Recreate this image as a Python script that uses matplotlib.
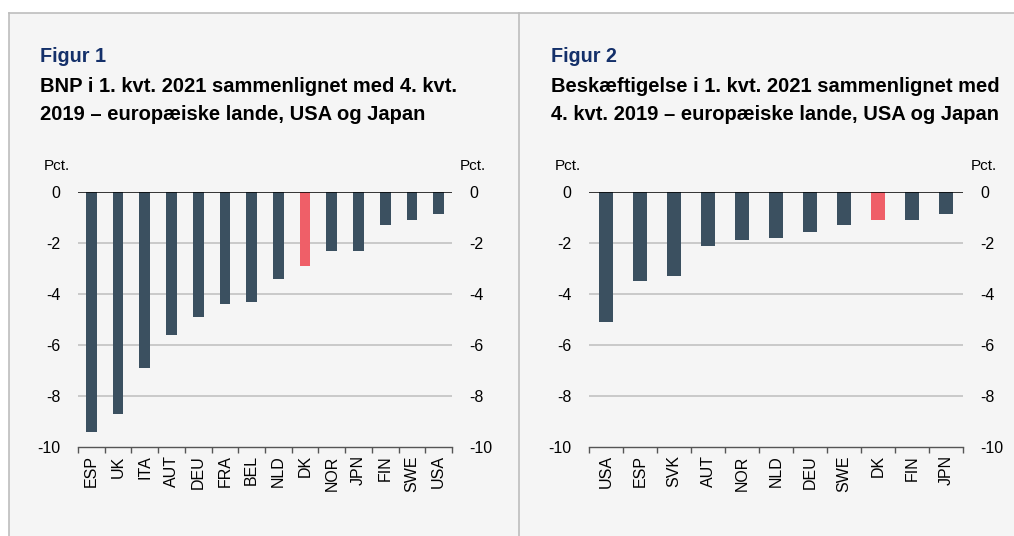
import matplotlib

matplotlib.use("Agg")
import matplotlib.pyplot as plt
from matplotlib.lines import Line2D
from matplotlib.patches import Rectangle

plt.rcParams["font.family"] = ["Liberation Sans", "DejaVu Sans"]

# ---------------------------------------------------------------------------
# Data (pct. change, 2021Q1 vs 2019Q4)
# ---------------------------------------------------------------------------
GDP_COUNTRIES = ["ESP", "UK", "ITA", "AUT", "DEU", "FRA", "BEL", "NLD", "DK",
                 "NOR", "JPN", "FIN", "SWE", "USA"]
GDP_VALUES = [-9.4, -8.7, -6.9, -5.6, -4.9, -4.4, -4.3, -3.4, -2.9,
              -2.3, -2.3, -1.3, -1.1, -0.85]

EMP_COUNTRIES = ["USA", "ESP", "SVK", "AUT", "NOR", "NLD", "DEU", "SWE", "DK",
                 "FIN", "JPN"]
EMP_VALUES = [-5.1, -3.5, -3.3, -2.1, -1.9, -1.8, -1.55, -1.3, -1.1,
              -1.1, -0.87]

HIGHLIGHT = "DK"
Y_TICKS = [0, -2, -4, -6, -8, -10]

TITLE1 = ["BNP i 1. kvt. 2021 sammenlignet med 4. kvt.",
          "2019 – europæiske lande, USA og Japan"]
TITLE2 = ["Beskæftigelse i 1. kvt. 2021 sammenlignet med",
          "4. kvt. 2019 – europæiske lande, USA og Japan"]

BAR = "#3b5060"
RED = "#ef5f68"
NAVY = "#14306a"
BG = "#f5f5f5"
W, H = 1014, 536


def fx(px):
    return px / W


def fy(py):
    return 1 - py / H


def draw_panel(ax, countries, values):
    n = len(countries)
    colors = [RED if c == HIGHLIGHT else BAR for c in countries]
    ax.bar(range(n), values, width=0.4, color=colors, zorder=3)
    ax.set_facecolor("none")
    ax.set_xlim(-0.5, n - 0.5)
    ax.set_ylim(-10, 0)
    ax.set_yticks(Y_TICKS)
    ax.set_yticklabels([str(v) for v in Y_TICKS], fontsize=11.5)
    ax.tick_params(axis="y", left=False, right=False, labelleft=True,
                   labelright=True, pad=9)
    for v in Y_TICKS[1:-1]:
        ax.axhline(v, color="#c2c2c2", lw=1.2, zorder=1)
    ax.axhline(0, color="black", lw=1.1, zorder=4)
    for s in ["top", "left", "right"]:
        ax.spines[s].set_visible(False)
    ax.spines["bottom"].set_color("#555555")
    ax.spines["bottom"].set_linewidth(1.0)
    # boundary ticks + centred labels
    ax.set_xticks([i - 0.5 for i in range(n + 1)])
    ax.set_xticklabels([])
    ax.tick_params(axis="x", which="major", length=4, color="#555555", width=1.0)
    ax.set_xticks(range(n), minor=True)
    ax.set_xticklabels(countries, minor=True, rotation=90, fontsize=11.5)
    ax.tick_params(axis="x", which="minor", length=0, pad=6)


fig = plt.figure(figsize=(W / 100, H / 100), dpi=100, facecolor="white")

# background panel and frame lines
fig.patches.append(Rectangle((fx(9), 0), 1 - fx(9), fy(13), transform=fig.transFigure,
                             facecolor=BG, edgecolor="none", zorder=-5))
for xs, ys in [([fx(9), 1], [fy(13), fy(13)]),
               ([fx(9), fx(9)], [0, fy(13)]),
               ([fx(519), fx(519)], [0, fy(13)])]:
    fig.add_artist(Line2D(xs, ys, color="#bdbdbd", lw=1.2, transform=fig.transFigure,
                          zorder=-4))

ax1 = fig.add_axes([fx(78), fy(447), fx(374), 255 / H])
ax2 = fig.add_axes([fx(589), fy(447), fx(374), 255 / H])
draw_panel(ax1, GDP_COUNTRIES, GDP_VALUES)
draw_panel(ax2, EMP_COUNTRIES, EMP_VALUES)

for x0, fig_no, title, pl, pr in [(40, "Figur 1", TITLE1, 57, 473),
                                  (551, "Figur 2", TITLE2, 568, 984)]:
    fig.text(fx(x0), fy(62), fig_no, color=NAVY, fontsize=14.2, fontweight="bold",
             va="baseline")
    for line, base in zip(title, [91.5, 119.5]):
        fig.text(fx(x0), fy(base), line, color="black", fontsize=14.5,
                 fontweight="bold", va="baseline")
    fig.text(fx(pl), fy(166), "Pct.", fontsize=11, ha="center", va="center")
    fig.text(fx(pr), fy(166), "Pct.", fontsize=11, ha="center", va="center")

fig.savefig("out.png", dpi=100, facecolor=fig.get_facecolor())
